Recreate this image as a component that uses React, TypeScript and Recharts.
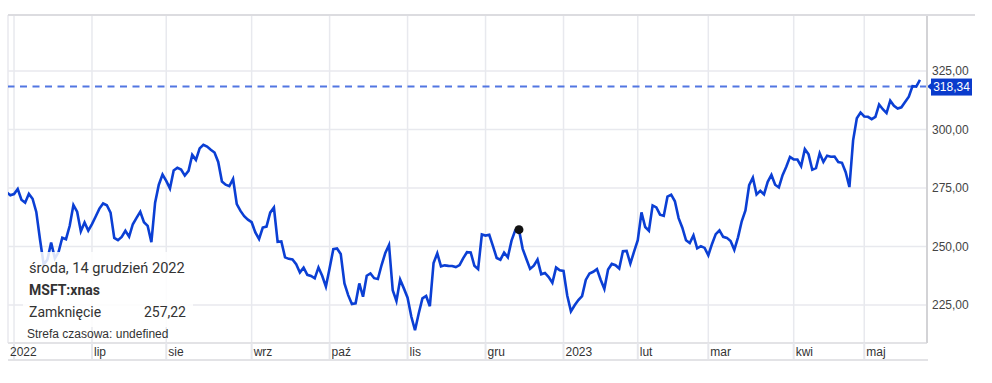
import {
  LineChart,
  Line,
  XAxis,
  YAxis,
  CartesianGrid,
  ReferenceLine,
  ReferenceDot,
} from "recharts";

// daily closes, MSFT:xnas, one array per month
const may22 = [273.24, 271.87];
const jun22 = [272.42, 274.58, 270.02, 268.75, 272.5, 270.41, 264.79, 252.99, 242.26, 244.49, 251.76, 244.97, 247.65, 253.74, 253.13, 258.86, 267.7, 264.89, 256.48, 260.26, 256.83];
const jul22 = [259.58, 262.85, 266.21, 268.4, 267.66, 264.51, 253.67, 252.72, 254.08, 256.72, 254.25, 259.53, 262.27, 264.84, 260.36, 258.83, 251.9, 268.74, 276.41, 280.74];
const aug22 = [278.01, 274.82, 282.47, 283.65, 282.91, 280.32, 282.3, 289.16, 287.02, 291.91, 293.47, 292.71, 291.32, 290.17, 286.15, 277.75, 276.44, 275.79, 278.85, 268.09, 265.23, 262.97, 261.47];
const sep22 = [260.4, 256.06, 253.25, 258.09, 258.52, 264.46, 266.65, 251.99, 252.22, 245.38, 244.74, 244.52, 242.45, 238.95, 240.98, 237.92, 237.45, 236.41, 241.07, 237.5, 232.9];
const oct22 = [240.74, 248.88, 249.2, 246.79, 234.24, 229.25, 225.41, 225.75, 234.24, 228.56, 237.53, 238.5, 236.48, 236.15, 242.12, 247.25, 250.66, 231.32, 226.75, 235.87, 232.13];
const nov22 = [228.17, 220.1, 214.25, 221.39, 227.87, 228.87, 224.51, 242.98, 247.11, 241.55, 241.97, 241.73, 241.68, 241.22, 242.05, 245.03, 247.58, 247.49, 241.76, 240.33, 255.14];
const dec22 = [254.69, 255.02, 250.2, 245.12, 244.37, 247.4, 245.42, 252.51, 256.92, 257.22, 249.01, 244.69, 240.45, 241.8, 244.43, 238.19, 238.73, 236.96, 234.53, 241.01, 239.82];
const jan23 = [239.58, 229.1, 222.31, 224.93, 227.12, 228.85, 235.77, 238.51, 239.23, 240.35, 235.81, 231.93, 240.22, 242.58, 242.04, 240.61, 248.0, 248.16, 242.71, 247.81];
const feb23 = [252.75, 264.6, 258.35, 256.77, 267.56, 266.73, 263.62, 263.1, 271.32, 272.17, 269.32, 262.15, 258.06, 252.67, 251.51, 254.77, 249.22, 250.16, 249.42];
const mar23 = [246.27, 251.11, 255.29, 256.87, 254.15, 253.7, 252.32, 248.59, 253.92, 260.79, 265.44, 276.2, 279.43, 272.23, 273.78, 272.29, 277.66, 280.57, 276.38, 275.23, 280.51, 284.05, 288.3];
const apr23 = [287.23, 287.18, 284.34, 291.6, 289.39, 282.83, 283.49, 289.84, 286.14, 288.8, 288.37, 288.45, 286.11, 285.76, 281.77, 275.42, 295.37, 304.83, 307.26];
const may23 = [305.56, 305.41, 304.4, 305.41, 310.65, 308.65, 307.0, 312.31, 310.11, 308.97, 309.46, 311.74, 314.0, 318.52, 318.34, 321.18];

const monthLabels = ["2022", "lip", "sie", "wrz", "paź", "lis", "gru", "2023", "lut", "mar", "kwi", "maj"];
const months = [jun22, jul22, aug22, sep22, oct22, nov22, dec22, jan23, feb23, mar23, apr23, may23];

const yTicks = [225, 250, 275, 300, 325];
const lastClose = 318.34;

// tooltip: Wednesday 14 Dec 2022 (10th session of December)
const tooltipDate = "środa, 14 grudzień 2022";
const tooltipSymbol = "MSFT:xnas";
const tooltipDay = 9;

// index 0 = first session of June 2022
const monthStarts: number[] = [];
let acc = 0;
for (const m of months) {
  monthStarts.push(acc);
  acc += m.length;
}
const data = [...may22, ...months.flat()].map((close, k) => ({
  i: k - may22.length,
  close,
}));
const lastIdx = data[data.length - 1].i;
const tipIdx = monthStarts[6] + tooltipDay;
const tipValue = dec22[tooltipDay];

const fmt = (v: number) => v.toFixed(2).replace(".", ",");

const MonthTick = (props: any) => {
  const { x, y, payload } = props;
  const k = monthStarts.indexOf(payload.value);
  const tx = k === 0 ? 10 : x + 2;
  return (
    <g>
      <line x1={x} x2={x} y1={y} y2={y + 17} stroke="#e6e7ec" strokeWidth={2} />
      <text
        x={tx}
        y={y + 13}
        fill="#333"
        fontSize={12}
        fontFamily="'Liberation Sans', Arial, sans-serif"
        textAnchor="start"
      >
        {monthLabels[k]}
      </text>
    </g>
  );
};

const PriceLabel = (props: any) => {
  const { viewBox } = props;
  const x = viewBox.x + viewBox.width;
  const y = viewBox.y;
  return (
    <g>
      <polygon points={`${x},${y} ${x + 5},${y - 4} ${x + 5},${y + 4}`} fill="#0a3bcc" />
      <rect x={x + 4} y={y - 8} width={41} height={17} fill="#0a3bcc" />
      <text
        x={x + 24.5}
        y={y + 4.5}
        fill="#fff"
        fontSize={12}
        fontFamily="'Liberation Sans', Arial, sans-serif"
        textAnchor="middle"
      >
        {fmt(lastClose)}
      </text>
    </g>
  );
};

export default function App() {
  return (
    <div style={{ position: "absolute", left: 0, top: 0, width: 992, height: 383, background: "#fff" }}>
      <LineChart
        width={992}
        height={383}
        data={data}
        margin={{ top: 15, right: 15, bottom: 23, left: 8 }}
      >
        <CartesianGrid stroke="#e8e9ee" strokeWidth={1.5} />
        <XAxis
          dataKey="i"
          type="number"
          domain={[-1.62, lastIdx + 1.9]}
          allowDataOverflow
          ticks={monthStarts}
          interval={0}
          height={17}
          tickSize={0}
          tickMargin={0}
          tickLine={false}
          axisLine={{ stroke: "#e3e3e6", strokeWidth: 2 }}
          tick={<MonthTick />}
        />
        <YAxis
          orientation="right"
          width={50}
          domain={[208.8, 348.9]}
          allowDataOverflow
          ticks={yTicks}
          tickFormatter={fmt}
          tickLine={false}
          tickSize={0}
          tickMargin={5}
          axisLine={{ stroke: "#d3d3d6", strokeWidth: 2 }}
          tick={{ fill: "#444", fontSize: 12, fontFamily: "'Liberation Sans', Arial, sans-serif" }}
        />
        <ReferenceLine
          y={lastClose}
          stroke="#5276e2"
          strokeWidth={2}
          strokeDasharray="7 5.5"
          label={<PriceLabel />}
        />
        <Line
          type="linear"
          dataKey="close"
          stroke="#0b3fd4"
          strokeWidth={2.6}
          dot={false}
          isAnimationActive={false}
        />
        <ReferenceDot x={tipIdx} y={tipValue} r={4.5} fill="#111" stroke="none" />
      </LineChart>
      <div style={{ position: "absolute", left: 8, top: 14, width: 967, borderTop: "2px solid #dcdce0" }} />
      <div style={{ position: "absolute", left: 8, top: 359, width: 920, borderTop: "2px solid #e3e3e6" }} />
      <div
        style={{
          position: "absolute",
          left: 23,
          top: 252,
          width: 170,
          height: 75,
          background: "rgba(255,255,255,0.85)",
          fontFamily: "Roboto, 'Noto Sans', sans-serif",
          fontSize: 14,
          color: "#333",
        }}
      >
        <div style={{ position: "absolute", left: 6, top: 8, lineHeight: "16px", fontSize: 14.6, whiteSpace: "nowrap" }}>{tooltipDate}</div>
        <div style={{ position: "absolute", left: 6, top: 30, lineHeight: "16px", fontWeight: 700 }}>{tooltipSymbol}</div>
        <div style={{ position: "absolute", left: 6, top: 52, lineHeight: "16px" }}>Zamknięcie</div>
        <div style={{ position: "absolute", right: 7, top: 52, lineHeight: "16px" }}>{fmt(tipValue)}</div>
      </div>
      <div
        style={{
          position: "absolute",
          left: 27,
          top: 327,
          lineHeight: "14px",
          fontSize: 12,
          color: "#333",
          fontFamily: "'Liberation Sans', Arial, sans-serif",
          whiteSpace: "nowrap",
        }}
      >
        Strefa czasowa: undefined
      </div>
    </div>
  );
}
